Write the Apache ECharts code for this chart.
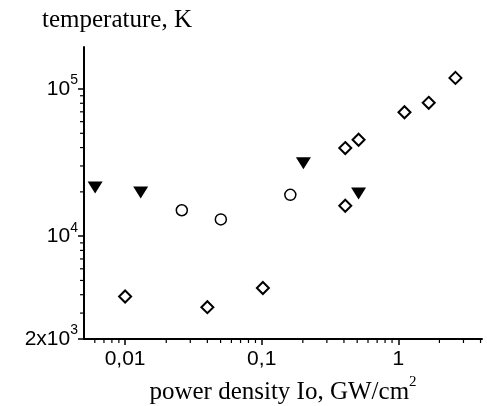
<!DOCTYPE html>
<html>
<head>
<meta charset="utf-8">
<script src="https://cdn.jsdelivr.net/npm/echarts@6/dist/echarts.min.js"></script>
<style>
  html, body { margin: 0; padding: 0; background: #fff; }
  #chart { width: 487px; height: 406px; }
</style>
</head>
<body>
<div id="chart"></div>
<script>
// power density Io (GW/cm2) and temperature (K)
const diamondX = [0.01, 0.04, 0.102, 0.409, 0.409, 0.512, 1.11, 1.67, 2.62]
const diamondY = [3890, 3290, 4440, 16100, 39700, 45200, 69500, 80600, 119000]
const circleX = [0.026, 0.0502, 0.162]
const circleY = [15000, 13000, 19100]
const triangleX = [0.00603, 0.013, 0.202, 0.512]
const triangleY = [21400, 19800, 31300, 19500]

// axis ranges and tick labels
const xMin = 0.005
const xMax = 4.1
const yMin = 2000
const yMax = 193000
const xTickValues = [0.01, 0.1, 1]
const xTickLabels = ['0,01', '0,1', '1']
const xMinorTicks = [0.006, 0.007, 0.008, 0.009,
  0.02, 0.03, 0.04, 0.05, 0.06, 0.07, 0.08, 0.09,
  0.2, 0.3, 0.4, 0.5, 0.6, 0.7, 0.8, 0.9,
  2, 3, 4]
const yMinorTicks = [3000, 4000, 5000, 6000, 7000, 8000, 9000,
  20000, 30000, 40000, 50000, 60000, 70000, 80000, 90000]

const serif = 'Liberation Serif'
const sans = 'Liberation Sans'

function pairs (xs, ys) {
  return xs.map((x, i) => [x, ys[i]])
}

// short minor tick marks, drawn through the axes' own log scales
function minorTick (dir) {
  return function (params, api) {
    const p = api.coord([api.value(0), api.value(1)])
    const shape = dir === 'x'
      ? { x1: p[0], y1: p[1], x2: p[0], y2: p[1] + 4 }
      : { x1: p[0], y1: p[1], x2: p[0] - 4, y2: p[1] }
    return { type: 'line', shape: shape, style: { stroke: '#000', lineWidth: 1.2 } }
  }
}

const option = {
  animation: false,
  backgroundColor: '#fff',
  grid: {
    left: 84,
    right: 5,
    top: 47,
    bottom: 67,
    containLabel: false,
    outerBoundsMode: 'none'
  },
  xAxis: {
    type: 'log',
    logBase: 10,
    min: xMin,
    max: xMax,
    name: 'power density Io, GW/cm{s|2}',
    nameLocation: 'middle',
    nameGap: 32,
    nameTextStyle: {
      fontFamily: serif,
      fontSize: 25,
      color: '#000',
      lineHeight: 36,
      rich: {
        s: { fontFamily: serif, fontSize: 15, lineHeight: 15, verticalAlign: 'top', color: '#000' }
      }
    },
    axisLine: { lineStyle: { color: '#000', width: 2 } },
    axisTick: { length: 6, lineStyle: { color: '#000', width: 1.5 } },
    splitLine: { show: false },
    axisLabel: {
      margin: 10,
      fontFamily: sans,
      fontSize: 21,
      color: '#000',
      showMinLabel: false,
      showMaxLabel: false,
      formatter: function (v) {
        const i = xTickValues.findIndex(t => Math.abs(Math.log10(t) - Math.log10(v)) < 1e-6)
        return i >= 0 ? xTickLabels[i] : ''
      }
    }
  },
  yAxis: {
    type: 'log',
    logBase: 10,
    min: yMin,
    max: yMax,
    name: 'temperature, K',
    nameLocation: 'end',
    nameGap: 14,
    nameTextStyle: {
      fontFamily: serif,
      fontSize: 25,
      color: '#000',
      align: 'center',
      padding: [0, 0, 0, 66]
    },
    axisLine: { show: true, lineStyle: { color: '#000', width: 2 } },
    axisTick: { show: true, length: 6, lineStyle: { color: '#000', width: 1.5 } },
    splitLine: { show: false },
    axisLabel: {
      margin: 6,
      color: '#000',
      showMinLabel: true,
      showMaxLabel: false,
      formatter: function (v) {
        if (Math.abs(v - yMin) / yMin < 1e-6) return '{b|2x10}{s|3}'
        const e = Math.log10(v)
        if (Math.abs(e - Math.round(e)) < 1e-6) return '{b|10}{s|' + Math.round(e) + '}'
        return ''
      },
      rich: {
        b: { fontFamily: sans, fontSize: 21, lineHeight: 31, color: '#000' },
        s: { fontFamily: sans, fontSize: 14, lineHeight: 14, verticalAlign: 'top', color: '#000' }
      }
    }
  },
  series: [
    {
      name: 'diamonds',
      type: 'scatter',
      symbol: 'diamond',
      symbolSize: 12,
      itemStyle: { color: '#fff', borderColor: '#000', borderWidth: 2, opacity: 1 },
      data: pairs(diamondX, diamondY)
    },
    {
      name: 'circles',
      type: 'scatter',
      symbol: 'circle',
      symbolSize: 11,
      itemStyle: { color: '#fff', borderColor: '#000', borderWidth: 1.5, opacity: 1 },
      data: pairs(circleX, circleY)
    },
    {
      name: 'triangles',
      type: 'scatter',
      symbol: 'triangle',
      symbolRotate: 180,
      symbolSize: [15, 12],
      itemStyle: { color: '#000', opacity: 1 },
      data: pairs(triangleX, triangleY)
    },
    {
      name: 'x minor ticks',
      type: 'custom',
      clip: false,
      silent: true,
      renderItem: minorTick('x'),
      data: xMinorTicks.map(v => [v, yMin])
    },
    {
      name: 'y minor ticks',
      type: 'custom',
      clip: false,
      silent: true,
      renderItem: minorTick('y'),
      data: yMinorTicks.map(v => [xMin, v])
    }
  ]
}

const myChart = echarts.init(document.getElementById('chart'), null, { renderer: 'canvas' })
myChart.setOption(option)
</script>
</body>
</html>
